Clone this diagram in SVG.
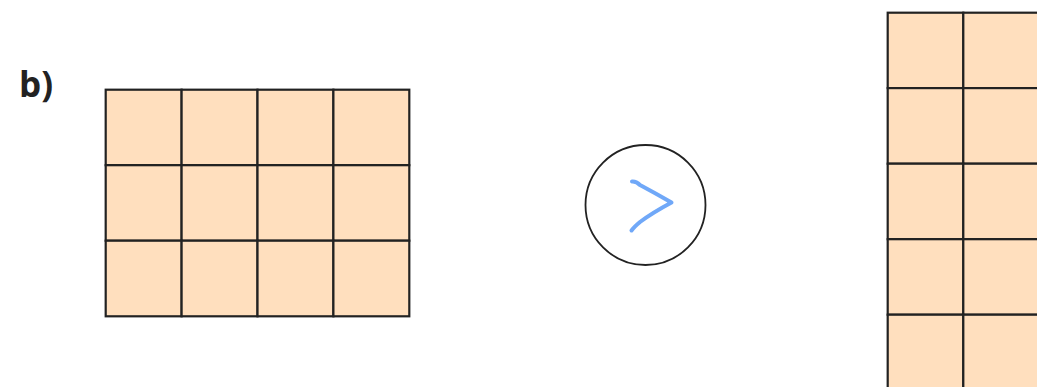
<svg xmlns="http://www.w3.org/2000/svg" width="1037" height="387" viewBox="0 0 1037 387">
<style>
.cell{fill:#FFDFBE;stroke:#222;stroke-width:2.2}
.lbl{font-family:"Open Sans","Liberation Sans",sans-serif;font-weight:bold;font-size:35px;fill:#222}
</style>
<rect width="1037" height="387" fill="#fff"/>
<text class="lbl" x="19" y="97">b)</text>
<g id="grid-left">
<rect class="cell" x="105.7" y="89.7" width="75.9" height="75.5"/>
<rect class="cell" x="181.6" y="89.7" width="75.9" height="75.5"/>
<rect class="cell" x="257.5" y="89.7" width="75.9" height="75.5"/>
<rect class="cell" x="333.4" y="89.7" width="75.9" height="75.5"/>
<rect class="cell" x="105.7" y="165.2" width="75.9" height="75.5"/>
<rect class="cell" x="181.6" y="165.2" width="75.9" height="75.5"/>
<rect class="cell" x="257.5" y="165.2" width="75.9" height="75.5"/>
<rect class="cell" x="333.4" y="165.2" width="75.9" height="75.5"/>
<rect class="cell" x="105.7" y="240.7" width="75.9" height="75.6"/>
<rect class="cell" x="181.6" y="240.7" width="75.9" height="75.6"/>
<rect class="cell" x="257.5" y="240.7" width="75.9" height="75.6"/>
<rect class="cell" x="333.4" y="240.7" width="75.9" height="75.6"/>
</g>
<g id="arrow-button">
<circle cx="645.5" cy="205" r="60" fill="#fff" stroke="#222" stroke-width="1.8"/>
<path d="M632 181.5 Q636 181 640 185 Q655 193 671.5 202.5 Q652 213 640 222 Q634 227 631.5 230.5" fill="none" stroke="#70A8F8" stroke-width="4" stroke-linecap="round" stroke-linejoin="round"/>
</g>
<g id="grid-right">
<rect class="cell" x="887.7" y="12.7" width="75.6" height="75.4"/>
<rect class="cell" x="963.3" y="12.7" width="75.6" height="75.4"/>
<rect class="cell" x="887.7" y="88.1" width="75.6" height="75.6"/>
<rect class="cell" x="963.3" y="88.1" width="75.6" height="75.6"/>
<rect class="cell" x="887.7" y="163.7" width="75.6" height="75.5"/>
<rect class="cell" x="963.3" y="163.7" width="75.6" height="75.5"/>
<rect class="cell" x="887.7" y="239.2" width="75.6" height="75.5"/>
<rect class="cell" x="963.3" y="239.2" width="75.6" height="75.5"/>
<rect class="cell" x="887.7" y="314.7" width="75.6" height="75.5"/>
<rect class="cell" x="963.3" y="314.7" width="75.6" height="75.5"/>
</g>
</svg>
